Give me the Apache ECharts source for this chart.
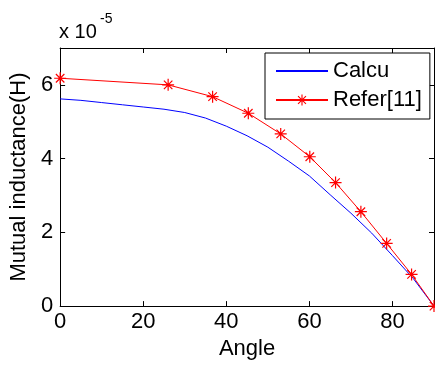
<!DOCTYPE html>
<html>
<head>
<meta charset="utf-8">
<script src="https://cdn.jsdelivr.net/npm/echarts@6/dist/echarts.min.js"></script>
<style>
  html, body { margin: 0; padding: 0; background: #fff; }
  #chart { width: 435px; height: 365px; }
</style>
</head>
<body>
<div id="chart"></div>
<script>
// values in units of 1e-5 H
const calcuAngle = [0, 5, 10, 15, 20, 25, 30, 35, 40, 45, 50, 55, 60, 65, 70, 75, 80, 85, 90]
const calcuValue = [5.62, 5.58, 5.52, 5.46, 5.40, 5.34, 5.25, 5.10, 4.88, 4.62, 4.31, 3.93, 3.53, 3.02, 2.52, 1.98, 1.37, 0.75, 0]
const referAngle = [0, 26, 36.7, 45.3, 53.1, 60.1, 66.3, 72.4, 78.6, 84.6, 90]
const referValue = [6.18, 6.0, 5.68, 5.23, 4.67, 4.05, 3.35, 2.56, 1.70, 0.86, 0]

const FONT = 'Liberation Sans, Arial, sans-serif'
const star = 'path://M0 9H20V11H0Z M9 0H11V20H9Z M3.64 2.22L17.78 16.36L16.36 17.78L2.22 3.64Z M17.78 3.64L3.64 17.78L2.22 16.36L16.36 2.22Z'

const chart = echarts.init(document.getElementById('chart'))

// box axes (top / right): line + inner ticks, no labels
const boxLine = { show: true, onZero: false, lineStyle: { color: '#000', width: 1 } }
const boxTick = { show: true, inside: true, length: 5, lineStyle: { color: '#000' } }

chart.setOption({
  animation: false,
  backgroundColor: '#fff',
  grid: { left: 60, right: 1, top: 48, bottom: 57 },
  legend: {
    orient: 'vertical',
    left: 265,
    top: 53,
    padding: [7, 8, 8, 10],
    itemWidth: 52,
    itemHeight: 14,
    itemGap: 7,
    backgroundColor: '#fff',
    borderColor: '#000',
    borderWidth: 1,
    borderRadius: 0,
    textStyle: { fontFamily: FONT, fontSize: 22, lineHeight: 22, color: '#000' },
    data: [
      { name: 'Calcu', itemStyle: { opacity: 0 } },
      { name: 'Refer[11]' },
    ],
  },
  graphic: [
    { type: 'text', left: 59, top: 22, style: { text: 'x 10', font: '20px ' + FONT, fill: '#000' } },
    { type: 'text', left: 100, top: 12, style: { text: '-5', font: '14px ' + FONT, fill: '#000' } },
  ],
  xAxis: [
    {
      type: 'value', min: 0, max: 90, interval: 20,
      name: 'Angle', nameLocation: 'middle', nameGap: 31,
      nameTextStyle: { fontFamily: FONT, fontSize: 22, color: '#000' },
      axisLine: boxLine,
      axisTick: boxTick,
      axisLabel: { fontFamily: FONT, fontSize: 22, color: '#000', margin: 5, showMaxLabel: false },
      splitLine: { show: false },
    },
    {
      type: 'value', position: 'top', min: 0, max: 90, interval: 20,
      axisLine: boxLine, axisTick: boxTick,
      axisLabel: { show: false }, splitLine: { show: false },
    },
  ],
  yAxis: [
    {
      type: 'value', min: 0, max: 7, interval: 2,
      name: 'Mutual inductance(H)', nameLocation: 'middle', nameGap: 26,
      nameTextStyle: { fontFamily: FONT, fontSize: 22, color: '#000' },
      axisLine: boxLine,
      axisTick: boxTick,
      axisLabel: { fontFamily: FONT, fontSize: 22, color: '#000', margin: 7, showMaxLabel: false },
      splitLine: { show: false },
    },
    {
      type: 'value', position: 'right', min: 0, max: 7, interval: 2,
      axisLine: boxLine, axisTick: boxTick,
      axisLabel: { show: false }, splitLine: { show: false },
    },
  ],
  series: [
    {
      name: 'Calcu', type: 'line', symbol: 'none',
      lineStyle: { color: '#0000ff', width: 1 },
      itemStyle: { color: '#0000ff' },
      data: calcuAngle.map((a, i) => [a, calcuValue[i]]),
    },
    {
      name: 'Refer[11]', type: 'line', symbol: star, symbolSize: 12,
      lineStyle: { color: '#ff0000', width: 1 },
      itemStyle: { color: '#ff0000' },
      data: referAngle.map((a, i) => [a, referValue[i]]),
    },
  ],
})
</script>
</body>
</html>
